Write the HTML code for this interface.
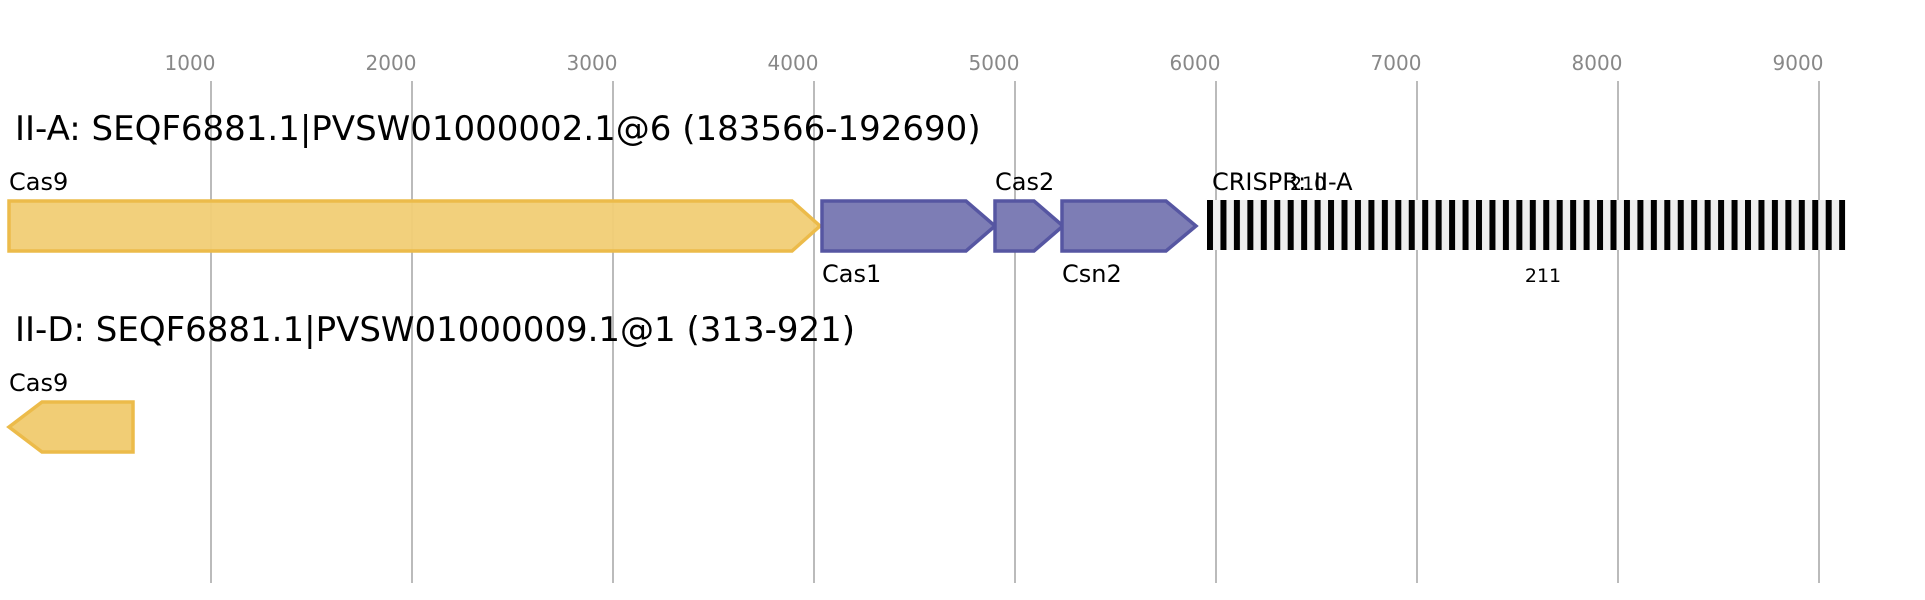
<!DOCTYPE html>
<html><head><meta charset="utf-8"><style>
html,body{margin:0;padding:0;background:#fff;}
svg{display:block;font-family:"DejaVu Sans","Liberation Sans",sans-serif;}
</style></head><body>
<svg width="1925" height="600" viewBox="0 0 1925 600" xmlns="http://www.w3.org/2000/svg">
<defs>
<pattern id="st" x="1207" y="0" width="13.45" height="600" patternUnits="userSpaceOnUse">
<rect x="0" y="0" width="13.45" height="600" fill="#eeeeee"/>
<rect x="0" y="0" width="6" height="600" fill="#000"/>
</pattern>
</defs>
<g stroke="#bbbbbb" stroke-width="2">
<line x1="211" y1="81" x2="211" y2="583"/>
<line x1="412" y1="81" x2="412" y2="583"/>
<line x1="613" y1="81" x2="613" y2="583"/>
<line x1="814" y1="81" x2="814" y2="583"/>
<line x1="1015" y1="81" x2="1015" y2="583"/>
<line x1="1216" y1="81" x2="1216" y2="583"/>
<line x1="1417" y1="81" x2="1417" y2="583"/>
<line x1="1618" y1="81" x2="1618" y2="583"/>
<line x1="1819" y1="81" x2="1819" y2="583"/>
</g>
<g fill="#888" font-size="20" text-anchor="middle">
<text x="190" y="70">1000</text><text x="391" y="70">2000</text><text x="592" y="70">3000</text>
<text x="793" y="70">4000</text><text x="994" y="70">5000</text><text x="1195" y="70">6000</text>
<text x="1396" y="70">7000</text><text x="1597" y="70">8000</text><text x="1798" y="70">9000</text>
</g>
<text x="15" y="140" font-size="34">II-A: SEQF6881.1|PVSW01000002.1@6 (183566-192690)</text>
<text x="15" y="341" font-size="34">II-D: SEQF6881.1|PVSW01000009.1@1 (313-921)</text>
<g stroke-width="3.5">
<polygon points="9,201 792,201 820,226 792,251 9,251" fill="#f1cd75" stroke="#ecbb4a" fill-opacity="0.95"/>
<polygon points="822,201 966,201 995,226 966,251 822,251" fill="#7d7db5" stroke="#5656a2"/>
<polygon points="995,201 1034,201 1063,226 1034,251 995,251" fill="#7d7db5" stroke="#5656a2"/>
<polygon points="1062,201 1166,201 1196,226 1166,251 1062,251" fill="#7d7db5" stroke="#5656a2"/>
<polygon points="9,427 42,402 133,402 133,452 42,452" fill="#f1cd75" stroke="#ecbb4a"/>
</g>
<rect x="1207" y="200" width="638.2" height="50" fill="url(#st)"/>
<g font-size="24" fill="#000">
<text x="9" y="190">Cas9</text>
<text x="995" y="190">Cas2</text>
<text x="1212" y="190">CRISPR: II-A</text>
<text x="822" y="282">Cas1</text>
<text x="1062" y="282">Csn2</text>
<text x="9" y="391">Cas9</text>
</g>
<text x="1290" y="190" font-size="19">210</text>
<text x="1543" y="282" font-size="19" text-anchor="middle">211</text>
</svg>
</body></html>
